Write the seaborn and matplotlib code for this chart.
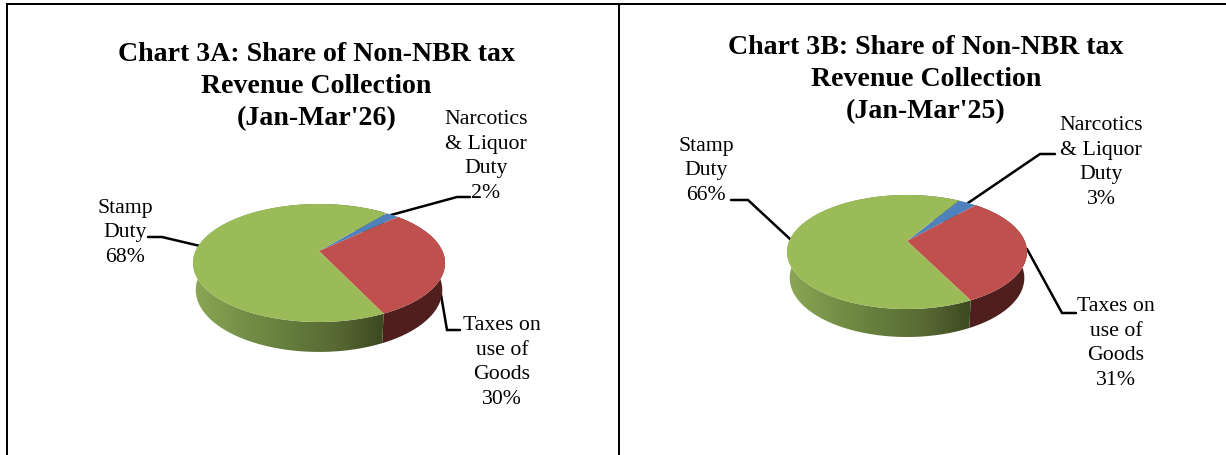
import numpy as np
import matplotlib
matplotlib.use("Agg")
import matplotlib.pyplot as plt
from matplotlib.colors import LinearSegmentedColormap
from matplotlib.patches import PathPatch
from matplotlib.path import Path
from matplotlib.transforms import Transform
import seaborn as sns

categories = ["Narcotics\n& Liquor\nDuty", "Taxes on\nuse of\nGoods", "Stamp\nDuty"]
values_a = [2, 30, 68]
values_b = [3, 31, 66]
title_a = ["Chart 3A: Share of Non-NBR tax", "Revenue Collection", "(Jan-Mar'26)"]
title_b = ["Chart 3B: Share of Non-NBR tax", "Revenue Collection", "(Jan-Mar'25)"]

TOP_COLORS = ["#4F81BD", "#C0504D", "#9BBB59"]
RED_WALL = "#4F1F1E"
GREEN_WALL = LinearSegmentedColormap.from_list(
    "wall", ["#8CA855", "#789148", "#647D3C", "#586934", "#3C4820"])

sns.set_theme(style="white")
plt.rcParams["font.family"] = ["Liberation Serif", "DejaVu Serif"]


class Perspective(Transform):
    """Projects the unit pie disc to a tilted, foreshortened disc in pixels."""
    input_dims = output_dims = 2
    is_affine = False
    has_inverse = False

    def __init__(self, cx, cy, a, b, k):
        super().__init__()
        self.cx, self.cy, self.a, self.b, self.k = cx, cy, a, b, k

    def transform_non_affine(self, values):
        values = np.asarray(values, dtype=float)
        w = 1 + self.k * values[:, 1]
        return np.column_stack([self.cx + self.a * values[:, 0] / w,
                                self.cy - self.b * values[:, 1] / w])

    def transform_path_non_affine(self, path):
        # flatten the arcs first: Bezier control points do not survive a projective map
        pts = []
        for curve, code in path.iter_bezier():
            if code == Path.MOVETO:
                pts.append(curve.control_points[0])
            else:
                pts.extend(curve(np.linspace(0, 1, 25)[1:]))
        return Path(self.transform_non_affine(np.array(pts)))


def rim(theta1, theta2):
    t = np.radians(np.linspace(theta1, theta2, 160))
    return np.column_stack([np.cos(t), np.sin(t)])


def draw_pie(ax, values, start, geom, depth, low_b):
    cx, cy, a, b, k = geom
    top = Perspective(cx, cy, a, b, k)
    low = Perspective(cx, cy + depth, a * 0.978, b * low_b, k)
    wedges, _ = ax.pie(values, colors=TOP_COLORS, startangle=start, counterclock=False,
                       wedgeprops=dict(linewidth=0, zorder=3))
    for w in wedges:
        w.set_transform(top + ax.transData)

    # side walls, behind the top face
    for w in wedges[1:]:
        pts = rim(w.theta1, w.theta2)
        poly = np.vstack([top.transform_non_affine(pts),
                          low.transform_non_affine(pts)[::-1]])
        if w is wedges[1]:
            ax.fill(poly[:, 0], poly[:, 1], color=RED_WALL, lw=0, zorder=2)
        else:
            patch = PathPatch(Path(np.vstack([poly, poly[:1]])), fc="none", ec="none",
                              transform=ax.transData)
            ax.add_patch(patch)
            x0 = cx - a * 1.04
            x1 = top.transform_non_affine(rim(w.theta2, w.theta2))[0, 0]
            im = ax.imshow(np.linspace(0, 1, 256)[None, :], cmap=GREEN_WALL, aspect="auto",
                           extent=(x0, x1, cy + b * 2.4, cy - b * 1.2), zorder=2)
            im.set_clip_path(patch)


def finish(ax, xlim):
    ax.set_aspect("auto")
    ax.set_xlim(*xlim)
    ax.set_ylim(456, 0)
    ax.axis("off")


def label(ax, text, x, y):
    ax.text(x, y, text, ha="center", va="center", fontsize=15.7, color="black",
            linespacing=1.39, zorder=5)


def leader(ax, xs, ys):
    ax.plot(xs, ys, color="black", lw=1.8, solid_joinstyle="miter", zorder=1, clip_on=False)


def title(ax, lines, x, baselines):
    for line, y in zip(lines, baselines):
        ax.text(x, y, line, ha="center", va="baseline", fontsize=20.1, fontweight="bold",
                color="black")


fig = plt.figure(figsize=(12.26, 4.56), dpi=100, facecolor="white")
ax_a = fig.add_axes([0, 0, 613 / 1226, 1])
ax_b = fig.add_axes([613 / 1226, 0, 613 / 1226, 1])

draw_pie(ax_a, values_a, 50.5, (319, 252, 123.4, 56.56, 0.2034), 26.4, 1.05)
draw_pie(ax_b, values_b, 59, (907, 242, 117.7, 54.9, 0.193), 25.6, 1.035)
finish(ax_a, (0, 613))
finish(ax_b, (613, 1226))

# frame rules
ax_a.plot([7, 7], [5, 456], color="black", lw=1.45, solid_capstyle="butt", zorder=6)
ax_a.plot([6, 613], [5, 5], color="black", lw=1.45, solid_capstyle="butt", zorder=6)
ax_b.plot([613, 1226], [5, 5], color="black", lw=1.45, solid_capstyle="butt", zorder=6)
ax_b.plot([619, 619], [5, 456], color="black", lw=1.45, solid_capstyle="butt", zorder=6)

title(ax_a, title_a, 316.5, [61, 93, 125])
title(ax_b, title_b, 926, [54.5, 86, 118.5])

# data labels
label(ax_a, f"{categories[0]}\n{values_a[0]}%", 486, 156.5)
label(ax_a, f"{categories[1]}\n{values_a[1]}%", 502, 362.5)
label(ax_a, f"{categories[2]}\n{values_a[2]}%", 125, 233)
label(ax_b, f"{categories[0]}\n{values_b[0]}%", 1101, 162.5)
label(ax_b, f"{categories[1]}\n{values_b[1]}%", 1116, 343.5)
label(ax_b, f"{categories[2]}\n{values_b[2]}%", 706, 171)

# leader lines
leader(ax_a, [391, 457, 470], [216, 198, 198])
leader(ax_a, [200, 162, 148], [247, 238, 238])
leader(ax_a, [440, 447, 460], [290, 331, 331])
leader(ax_b, [968, 1040, 1055], [204, 155, 155])
leader(ax_b, [790, 748, 731], [240, 201, 201])
leader(ax_b, [1027, 1062, 1076], [250, 314, 314])

fig.savefig("out.png", dpi=100, facecolor="white")
